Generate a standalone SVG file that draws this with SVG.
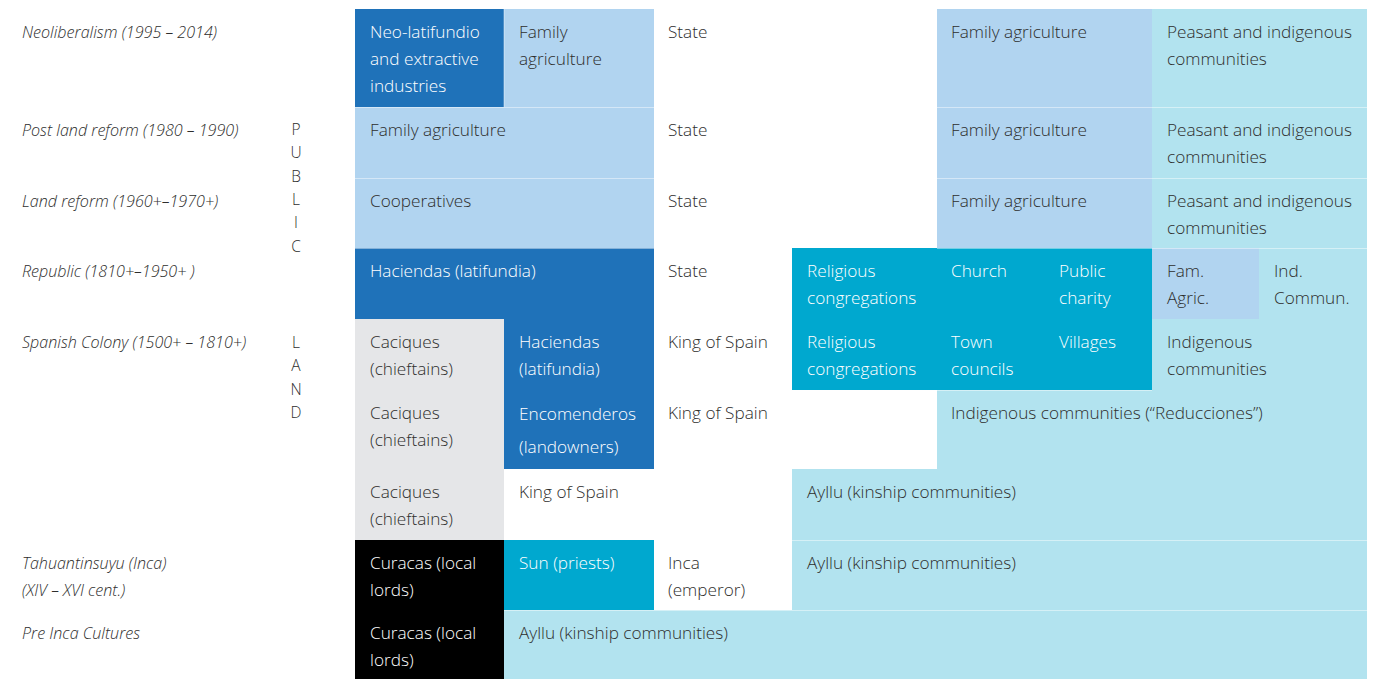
<svg xmlns="http://www.w3.org/2000/svg" width="1373" height="679" viewBox="0 0 1373 679">
<style>
.t{font-family:"Open Sans","Noto Sans","Liberation Sans",sans-serif;font-size:17.2px;font-weight:300;fill:#2e2e2d}
.w{fill:#ffffff}
.lab{font-family:"Open Sans","Noto Sans","Liberation Sans",sans-serif;font-size:16.1px;font-style:italic;font-weight:300;fill:#2e2e2d}
.v{font-family:"Open Sans","Noto Sans","Liberation Sans",sans-serif;font-size:15.5px;font-weight:300;fill:#2e2e2d;text-anchor:middle}
.db{fill:#1f72b9}.lb{fill:#b1d4f0}.tl{fill:#00a8cf}.cy{fill:#b2e3ef}.gr{fill:#e5e6e8}.bk{fill:#000000}
.div{stroke:#ffffff;stroke-opacity:0.45;stroke-width:1;fill:none}
</style>
<rect width="1373" height="679" fill="#ffffff"/>
<g id="labels">
<text class="lab" x="22" y="38">Neoliberalism (1995 – 2014)</text>
<text class="lab" x="22" y="136">Post land reform (1980 – 1990)</text>
<text class="lab" x="22" y="207">Land reform (1960+–1970+)</text>
<text class="lab" x="22" y="277">Republic (1810+–1950+ )</text>
<text class="lab" x="22" y="348">Spanish Colony (1500+ – 1810+)</text>
<text class="lab" x="22" y="569">Tahuantinsuyu (Inca)</text>
<text class="lab" x="22" y="596">(XIV – XVI cent.)</text>
<text class="lab" x="22" y="639">Pre Inca Cultures</text>
</g>
<g id="public-land">
<text class="v" x="296" y="135">P</text>
<text class="v" x="296" y="158">U</text>
<text class="v" x="296" y="182">B</text>
<text class="v" x="296" y="205">L</text>
<text class="v" x="296" y="228">I</text>
<text class="v" x="296" y="252">C</text>
<text class="v" x="296" y="348">L</text>
<text class="v" x="296" y="371">A</text>
<text class="v" x="296" y="395">N</text>
<text class="v" x="296" y="418">D</text>
</g>
<g id="cells">
<g id="neo-latifundio"><rect class="db" x="355" y="9" width="149" height="98"/>
<text class="t w" x="370" y="38">Neo-latifundio</text><text class="t w" x="370" y="65">and extractive</text><text class="t w" x="370" y="92">industries</text></g>
<g id="neo-family1"><rect class="lb" x="504" y="9" width="150" height="98"/>
<text class="t" x="519" y="38">Family</text><text class="t" x="519" y="65">agriculture</text></g>
<g id="neo-state"><text class="t" x="668" y="38">State</text></g>
<g id="family-col"><rect class="lb" x="937" y="9" width="215" height="239"/></g>
<g id="peasant-col"><rect class="cy" x="1152" y="9" width="215" height="239"/></g>
<g id="neo-family2"><text class="t" x="951" y="38">Family agriculture</text></g>
<g id="neo-peasant"><text class="t" x="1167" y="38">Peasant and indigenous</text><text class="t" x="1167" y="65">communities</text></g>

<g id="post-family"><rect class="lb" x="355" y="107" width="299" height="71"/>
<text class="t" x="370" y="136">Family agriculture</text></g>
<g id="post-state"><text class="t" x="668" y="136">State</text></g>
<g id="post-family2"><text class="t" x="951" y="136">Family agriculture</text></g>
<g id="post-peasant"><text class="t" x="1167" y="136">Peasant and indigenous</text><text class="t" x="1167" y="163">communities</text></g>

<g id="coop"><rect class="lb" x="355" y="178" width="299" height="70"/>
<text class="t" x="370" y="207">Cooperatives</text></g>
<g id="lr-state"><text class="t" x="668" y="207">State</text></g>
<g id="lr-family2"><text class="t" x="951" y="207">Family agriculture</text></g>
<g id="lr-peasant"><text class="t" x="1167" y="207">Peasant and indigenous</text><text class="t" x="1167" y="234">communities</text></g>

<g id="haciendas"><path class="db" d="M355,248H654V469H504V319H355Z"/>
<text class="t w" x="370" y="277">Haciendas (latifundia)</text>
<text class="t w" x="519" y="348">Haciendas</text><text class="t w" x="519" y="375">(latifundia)</text>
<text class="t w" x="519" y="420">Encomenderos</text><text class="t w" x="519" y="453">(landowners)</text></g>
<g id="rep-state"><text class="t" x="668" y="277">State</text></g>
<g id="religious"><rect class="tl" x="792" y="248" width="360" height="142"/>
<text class="t w" x="807" y="277">Religious</text><text class="t w" x="807" y="304">congregations</text>
<text class="t w" x="951" y="277">Church</text>
<text class="t w" x="1059" y="277">Public</text><text class="t w" x="1059" y="304">charity</text>
<text class="t w" x="807" y="348">Religious</text><text class="t w" x="807" y="375">congregations</text>
<text class="t w" x="951" y="348">Town</text><text class="t w" x="951" y="375">councils</text>
<text class="t w" x="1059" y="348">Villages</text></g>
<g id="fam-agric"><rect class="lb" x="1152" y="248" width="107" height="71"/>
<text class="t" x="1167" y="277">Fam.</text><text class="t" x="1167" y="304">Agric.</text></g>
<g id="communities"><path class="cy" d="M1259,248H1367V679H504V610H792V469H937V390H1152V319H1259Z"/>
<text class="t" x="1274" y="277">Ind.</text><text class="t" x="1274" y="304">Commun.</text>
<text class="t" x="1167" y="348">Indigenous</text><text class="t" x="1167" y="375">communities</text>
<text class="t" x="951" y="419">Indigenous communities (“Reducciones”)</text>
<text class="t" x="807" y="498">Ayllu (kinship communities)</text>
<text class="t" x="807" y="569">Ayllu (kinship communities)</text>
<text class="t" x="519" y="639">Ayllu (kinship communities)</text></g>

<g id="caciques"><rect class="gr" x="355" y="319" width="149" height="221"/>
<text class="t" x="370" y="348">Caciques</text><text class="t" x="370" y="375">(chieftains)</text>
<text class="t" x="370" y="419">Caciques</text><text class="t" x="370" y="446">(chieftains)</text>
<text class="t" x="370" y="498">Caciques</text><text class="t" x="370" y="525">(chieftains)</text></g>
<g id="king"><text class="t" x="668" y="348">King of Spain</text><text class="t" x="668" y="419">King of Spain</text><text class="t" x="519" y="498">King of Spain</text></g>

<g id="curacas"><rect class="bk" x="355" y="540" width="149" height="139"/>
<text class="t w" x="370" y="569">Curacas (local</text><text class="t w" x="370" y="596">lords)</text>
<text class="t w" x="370" y="639">Curacas (local</text><text class="t w" x="370" y="666">lords)</text></g>
<g id="sun"><rect class="tl" x="504" y="540" width="150" height="70"/>
<text class="t w" x="519" y="569">Sun (priests)</text></g>
<g id="inca"><text class="t" x="668" y="569">Inca</text><text class="t" x="668" y="596">(emperor)</text></g>
</g>
<g id="dividers">
<path class="div" d="M355,107.5H654M355,178.5H654M355,248.5H654M937,107.5H1367M937,178.5H1367M937,248.5H1367M504,9V107M792,390.5H1152M792,540.5H1367M504,610.5H1367"/>
</g>
</svg>
